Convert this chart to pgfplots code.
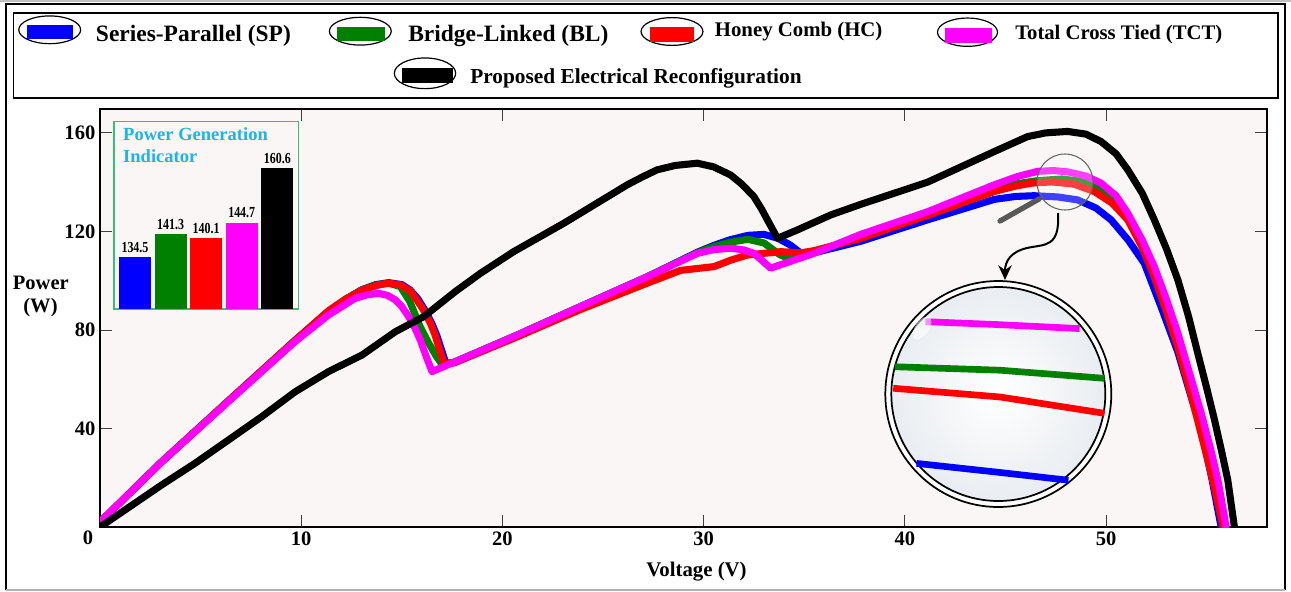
\documentclass[border=0pt]{standalone}
\usepackage{fontspec}
\setmainfont{Liberation Serif}
\newfontfamily\condfont[FakeStretch=0.78]{Liberation Serif}
\usepackage{pgfplots}
\pgfplotsset{compat=1.18}
\usetikzlibrary{arrows.meta}

\definecolor{plotbg}{RGB}{249,246,245}
\definecolor{spblue}{RGB}{0,0,255}
\definecolor{blgreen}{RGB}{0,128,0}
\definecolor{hcred}{RGB}{255,0,0}
\definecolor{tctmag}{RGB}{255,0,255}
\definecolor{titlecyan}{RGB}{30,180,235}
\definecolor{framegreen}{RGB}{50,195,120}

\pgfplotsset{/pgf/number format/assume math mode=true}

\begin{document}
\begin{tikzpicture}[x=0.75pt,y=-0.75pt]
\useasboundingbox (0,0) rectangle (1291,592);

% ---------------- main P-V axis ----------------
\begin{axis}[
  at={(75pt,-395.25pt)}, anchor=south west,
  scale only axis, width=875.25pt, height=313.5pt,
  xmin=0, xmax=58, ymin=0, ymax=169.7,
  axis background/.style={fill=plotbg},
  axis line style={line width=1.1pt},
  major tick style={line width=0.6pt, black!75},
  major tick length=9pt,
  xtick={10,20,30,40,50}, ytick={40,80,120,160},
  tick label style={font=\fontsize{15.4pt}{18pt}\selectfont\bfseries},
  every axis plot/.append style={line width=5.3pt, line join=round, line cap=round},
]
% Series-Parallel
\addplot[spblue] coordinates {(0,2) (3.07,26.5) (6.38,51.2) (9.70,75.8) (11.36,87.6) (12.2,92.4) (13.0,96.3) (13.7,98.4) (14.35,99.2) (15.0,98.4) (15.4,96.3) (15.8,92.6) (16.15,88.0) (16.5,82.5) (16.75,77.5) (16.95,72.5) (17.2,66.2) (17.6,66.9) (20.56,77.3) (23.88,89.5) (27.2,101.6) (29.7,111.6) (30.5,114.3) (31.3,116.6) (32.2,118.4) (33.0,118.8) (33.7,117.2) (34.3,114.5) (34.8,111.4) (35.49,111.3) (37.81,116.0) (41.13,124.7) (44.44,133.0) (45.5,134.2) (46.43,134.5) (47.6,134.0) (48.59,132.8) (49.5,129.5) (50.25,124.7) (51.1,116.5) (51.9,107.1) (52.73,89.5) (53.57,71) (54.15,55) (54.73,39.4) (55.25,20) (55.72,0)};
% Bridge-Linked
\addplot[blgreen] coordinates {(0,2) (3.07,26.5) (6.38,51.2) (9.70,75.8) (11.36,87.6) (12.2,92.4) (13.0,96.2) (13.7,98.2) (14.35,99.0) (14.93,97.6) (15.4,91.5) (15.9,81.5) (16.3,75.2) (16.7,69.5) (17.0,66.0) (17.6,66.9) (20.56,77.3) (23.88,89.5) (27.2,101.6) (29.7,111.4) (30.5,113.8) (31.3,115.6) (32.2,116.8) (33.0,115.3) (33.8,110.5) (34.3,108.8) (35.49,111.5) (37.81,118.0) (41.13,127.3) (44.44,137.5) (45.6,139.4) (46.6,140.6) (47.8,141.3) (48.7,140.4) (49.42,138.6) (50.3,133.5) (51.08,127.0) (51.8,116.0) (52.4,104.5) (53.0,91) (53.57,77.5) (54.1,62) (54.65,46) (55.1,31) (55.5,17) (55.9,0)};
% Honey Comb
\addplot[hcred] coordinates {(0,2) (3.07,26.5) (6.38,51.2) (9.70,75.8) (11.36,87.8) (12.2,92.5) (13.02,96.2) (13.9,98.4) (14.35,99.0) (14.93,98.3) (15.4,96.0) (15.75,92.2) (16.1,87.8) (16.42,82.7) (16.65,78.0) (16.83,73.2) (17.1,66.5) (17.6,66.6) (20.56,76.6) (23.88,88.3) (27.2,99.0) (28.86,104.2) (30.51,105.7) (31.34,108.3) (32.17,110.4) (33.83,111.8) (34.83,111.3) (35.49,112.2) (37.81,117.2) (41.13,126.5) (44.44,136.2) (45.5,138.4) (46.3,139.6) (47.3,140.1) (48.4,139.2) (49.42,136.2) (50.3,131.5) (51.08,124.7) (51.8,113.5) (52.4,101.5) (53.0,87.5) (53.57,73) (54.1,57.5) (54.56,43) (55.0,29) (55.39,16) (55.82,0)};
% Total Cross Tied
\addplot[tctmag] coordinates {(0,2) (3.07,26.5) (6.38,50.9) (9.70,75.3) (11.36,86.1) (12.69,92.9) (13.3,94.3) (13.85,94.9) (14.3,94.0) (14.68,92.2) (15.0,89.5) (15.34,85.4) (15.65,80.8) (15.92,75.9) (16.2,69.5) (16.5,63.1) (17.08,65.1) (20.56,77.3) (23.88,89.5) (27.2,101.6) (29.69,111.1) (30.5,112.6) (31.34,113.2) (32.0,112.5) (32.5,111.1) (33.33,105.1) (35.49,111.1) (37.81,118.8) (41.13,128.0) (44.44,138.9) (45.6,142.3) (46.6,144.4) (47.4,144.7) (48.09,144.2) (49.0,142.5) (49.75,139.6) (50.5,134.5) (51.08,127.4) (51.8,116.5) (52.4,105.7) (53.0,92.5) (53.57,78.7) (54.15,62.5) (54.73,46.2) (55.2,31.5) (55.56,19.1) (55.97,0)};
% Proposed electrical reconfiguration
\addplot[black] coordinates {(0,0) (3.07,17.1) (4.73,25.9) (6.38,35.3) (8.04,44.8) (9.70,54.9) (11.36,63.1) (13.02,69.8) (14.68,79.3) (16.09,85.4) (17.66,95.6) (18.91,103.0) (20.56,111.8) (23.05,123.3) (26.2,138.9) (27.0,142.3) (27.69,145.0) (28.6,146.8) (29.69,147.7) (30.5,146.2) (31.34,142.9) (31.9,139.2) (32.5,134.1) (32.9,128.8) (33.17,124.7) (33.45,120.5) (33.67,117.2) (34.66,120.6) (36.32,126.7) (37.81,131.0) (41.13,140.0) (44.44,152.4) (46.1,158.5) (47.0,160.0) (48.09,160.6) (49.0,159.5) (49.75,156.5) (50.5,151.5) (51.08,145.0) (51.8,135.5) (52.4,124.7) (53.0,113.0) (53.57,100.3) (54.1,85.5) (54.56,70.5) (55.0,56.5) (55.39,43.5) (55.75,30.5) (56.05,19.1) (56.38,0)};
\end{axis}

% shared zero of both axes
\node[font=\fontsize{15.4pt}{18pt}\selectfont\bfseries] at (88,538) {0};
% axis titles
\node[anchor=base, font=\fontsize{15.6pt}{18pt}\selectfont\bfseries] at (696.5,576) {Voltage (V)};
\node[anchor=base, font=\fontsize{15.4pt}{18pt}\selectfont\bfseries] at (40.8,289.3) {Power};
\node[anchor=base, font=\fontsize{15.4pt}{18pt}\selectfont\bfseries] at (40.5,312) {(W)};

% ---------------- power generation indicator ----------------
\begin{axis}[
  at={(85.5pt,-231.75pt)}, anchor=south west,
  scale only axis, width=138.5pt, height=140.5pt,
  xmin=-0.59, xmax=4.6, ymin=119.4, ymax=174.2,
  axis background/.style={fill=plotbg},
  axis line style={draw=framegreen, line width=1.1pt},
  ticks=none,
  ybar, bar width=24pt,
  nodes near coords,
  nodes near coords style={font=\condfont\bfseries\fontsize{11.5pt}{13pt}\selectfont, text=black},
]
\addplot[fill=spblue, draw=none, bar shift=0pt] coordinates {(0,134.5)};
\addplot[fill=blgreen, draw=none, bar shift=0pt] coordinates {(1,141.3)};
\addplot[fill=hcred, draw=none, bar shift=0pt] coordinates {(2,140.1)};
\addplot[fill=tctmag, draw=none, bar shift=0pt] coordinates {(3,144.7)};
\addplot[fill=black, draw=none, bar shift=0pt] coordinates {(4,160.6)};
\end{axis}
\node[anchor=base west, text=titlecyan, font=\fontsize{13.9pt}{16pt}\selectfont\bfseries] at (118.5,140) {Power Generation};
\node[anchor=base west, text=titlecyan, font=\fontsize{13.9pt}{16pt}\selectfont\bfseries] at (118.5,162) {Indicator};

% ---------------- magnifier ----------------
\fill[white, opacity=0.25] (1065,182) circle [radius=21pt];
\draw[black!60, line width=0.8pt] (1065,182) circle [radius=21pt];
\draw[line width=4pt, black!65, line cap=round] (1039,199) -- (1000,221);
\draw[line width=1.5pt, -{Stealth[length=11pt, width=10pt]}]
  (1058,213) .. controls (1060,248) and (1045,244) .. (1027,248)
  .. controls (1010,252) and (1005,262) .. (1005,280);
\draw[line width=1.3pt, fill=white] (998.3,394) circle [radius=84.75pt];
\shade[inner color=white, outer color={rgb,255:red,233;green,237;blue,241}] (998.3,394) circle [radius=80.25pt];
\draw[line width=1.3pt] (998.3,394) circle [radius=80.25pt];

\begin{axis}[
  at={(664.5pt,-380.25pt)}, anchor=south west,
  scale only axis, width=168.75pt, height=169.5pt,
  xmin=46.6, xmax=49.4, ymin=128.6, ymax=151.4,
  hide axis,
  every axis plot/.append style={line width=5pt, line join=round},
]
\addplot[tctmag] coordinates {(47.09,147.3) (48.0,147.0) (49.01,146.6)};
\addplot[blgreen] coordinates {(46.71,142.75) (48.02,142.4) (49.32,141.58)};
\addplot[hcred] coordinates {(46.69,140.58) (48.02,139.7) (49.32,138.05)};
\addplot[spblue] coordinates {(46.98,133.0) (48.0,132.1) (48.87,131.3)};
\end{axis}
\fill[white, opacity=0.55, rotate around={-35:(922,328)}] (922,328) ellipse [x radius=5pt, y radius=10pt];

% ---------------- legend ----------------
\draw[line width=1.4pt] (13.5,12.7) rectangle (1278,97.7);
% SP
\draw[line width=0.9pt, fill=white] (49.7,29.8) ellipse [x radius=23.2pt, y radius=10.4pt];
\fill[spblue] (26.7,24.8) rectangle (72.7,39.5);
\node[anchor=base west, inner sep=0pt, font=\fontsize{17.6pt}{20pt}\selectfont\bfseries] at (95.7,41.7) {Series-Parallel (SP)};
% BL
\draw[line width=0.9pt, fill=white] (360.3,31.2) ellipse [x radius=23.2pt, y radius=10.4pt];
\fill[blgreen] (336.7,26.7) rectangle (385,41.2);
\node[anchor=base west, inner sep=0pt, font=\fontsize{17.6pt}{20pt}\selectfont\bfseries] at (408,41.7) {Bridge-Linked (BL)};
% HC
\draw[line width=0.9pt, fill=white] (672,31.5) ellipse [x radius=23.2pt, y radius=10.4pt];
\fill[hcred] (650,26.7) rectangle (694,42.2);
\node[anchor=base west, inner sep=0pt, font=\fontsize{15.6pt}{18pt}\selectfont\bfseries] at (714.6,37) {Honey Comb (HC)};
% TCT
\draw[line width=0.9pt, fill=white] (967.5,32.2) ellipse [x radius=22.5pt, y radius=10.6pt];
\fill[tctmag] (944.7,28.3) rectangle (992.4,43);
\node[anchor=base west, inner sep=0pt, font=\fontsize{15.5pt}{18pt}\selectfont\bfseries] at (1015,39.3) {Total Cross Tied (TCT)};
% Proposed
\draw[line width=0.9pt, fill=white] (425,73.3) ellipse [x radius=23pt, y radius=11.5pt];
\fill[black] (401.7,67.7) rectangle (453.3,83.3);
\node[anchor=base west, inner sep=0pt, font=\fontsize{16pt}{19pt}\selectfont\bfseries] at (470,83.3) {Proposed Electrical Reconfiguration};

% ---------------- outer frame ----------------
\draw[gray!50, line width=0.8pt] (0,1) -- (1291,1);
\draw[line width=1.1pt] (6,590) -- (6,4) -- (1285,4) -- (1285,590);
\draw[gray!60, line width=1pt] (6,590) -- (1285,590);
\end{tikzpicture}
\end{document}
